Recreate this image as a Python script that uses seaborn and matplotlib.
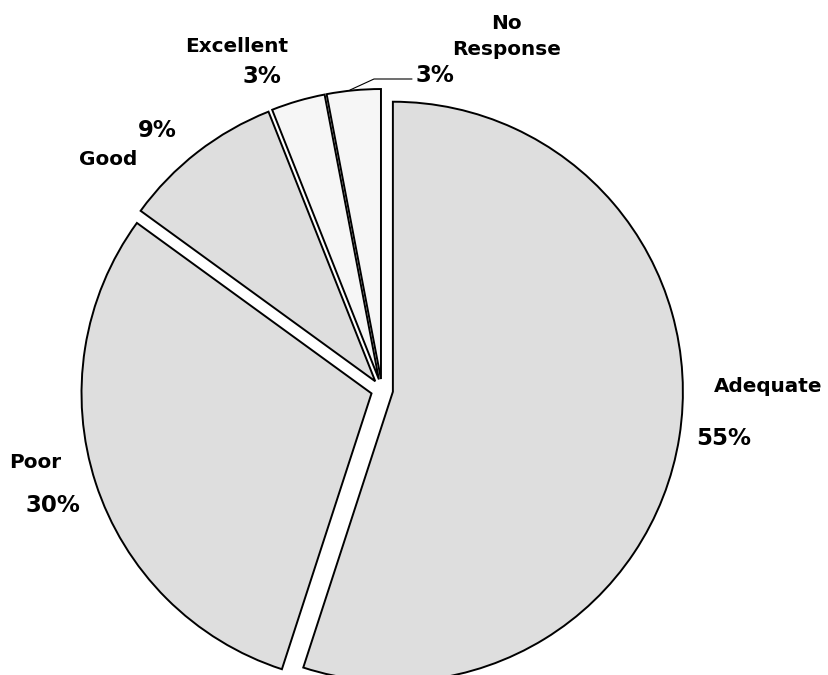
import matplotlib
matplotlib.use("Agg")
import matplotlib.pyplot as plt
import seaborn as sns

# Data
categories = ["Adequate", "Poor", "Good", "Excellent", "No Response"]
values = [55, 30, 9, 3, 3]
pct_labels = ["55%", "30%", "9%", "3%", "3%"]

sns.set_theme(style="white")
plt.rcParams["font.family"] = ["DejaVu Sans"]
plt.rcParams["text.color"] = "black"

W, H = 829, 675
fig = plt.figure(figsize=(W / 100, H / 100), dpi=100)
ax = fig.add_axes([0, 0, 1, 1])

colors = ["#dedede", "#dedede", "#dedede", "#f6f6f6", "#f6f6f6"]
explode = [0.038] * len(values)

wedges, _ = ax.pie(values, startangle=90, counterclock=False, colors=colors,
                   explode=explode, radius=1.0,
                   wedgeprops=dict(edgecolor="black", linewidth=1.4))

# pixel mapping: centre (382, 390) px, radius 290 px
cx, cy, r = 382.0, 390.0, 290.0
ax.set_aspect("auto")
ax.set_xlim((0 - cx) / r, (W - cx) / r)
ax.set_ylim((cy - H) / r, (cy - 0) / r)
ax.axis("off")


def px(x, y):
    return x / W, 1 - y / H


name_fs = 14.4
pct_fs = 16.5
kw = dict(va="baseline", fontweight="bold", color="black")

# Adequate
fig.text(*px(714, 392), "Adequate", ha="left", fontsize=name_fs, **kw)
fig.text(*px(724, 445), pct_labels[0], ha="center", fontsize=pct_fs, **kw)
# Poor
fig.text(*px(9, 468), "Poor", ha="left", fontsize=name_fs, **kw)
fig.text(*px(53, 512), pct_labels[1], ha="center", fontsize=pct_fs, **kw)
# Good
fig.text(*px(157, 137), pct_labels[2], ha="center", fontsize=pct_fs, **kw)
fig.text(*px(137, 165), "Good", ha="right", fontsize=name_fs, **kw)
# Excellent
fig.text(*px(237, 52), "Excellent", ha="center", fontsize=name_fs, **kw)
fig.text(*px(262, 83), pct_labels[3], ha="center", fontsize=pct_fs, **kw)
# No Response
fig.text(*px(506, 29), "No", ha="center", fontsize=name_fs, **kw)
fig.text(*px(452, 55), "Response", ha="left", fontsize=name_fs, **kw)
fig.text(*px(435, 82), pct_labels[4], ha="center", fontsize=pct_fs, **kw)

# leader line for No Response
lx = [350, 374, 412]
ly = [90, 79, 79]
fig.add_artist(plt.Line2D([x / W for x in lx], [1 - y / H for y in ly],
                          color="black", linewidth=0.8))

fig.savefig("out.png", dpi=100)
